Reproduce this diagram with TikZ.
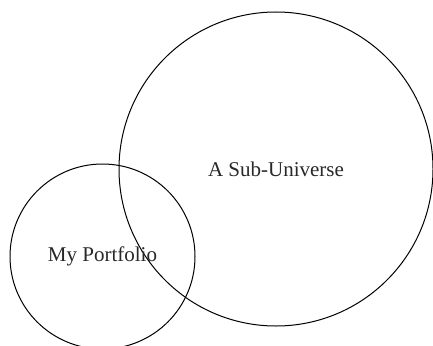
\documentclass[tikz,border=0pt]{standalone}
\usepackage{fontspec}
\setmainfont{Liberation Serif}
\usepackage{tikz}
\usetikzlibrary{positioning}
\definecolor{setline}{RGB}{0,0,0}
\definecolor{settext}{RGB}{40,40,40}
\tikzset{
  setcirc/.style={circle,draw=setline,line width=1pt,inner sep=0pt,
                  text=settext,font=\fontsize{21}{25}\selectfont},
}
\begin{document}
\begin{tikzpicture}[x=1pt,y=-1pt]
  \clip (0,0) rectangle (433,345);
  \node[setcirc,minimum size=314pt] (SU) at (276,169) {A Sub-Universe};
  \node[setcirc,minimum size=185pt] (MP) at (102.5,256.5) {My Portfolio};
\end{tikzpicture}
\end{document}
